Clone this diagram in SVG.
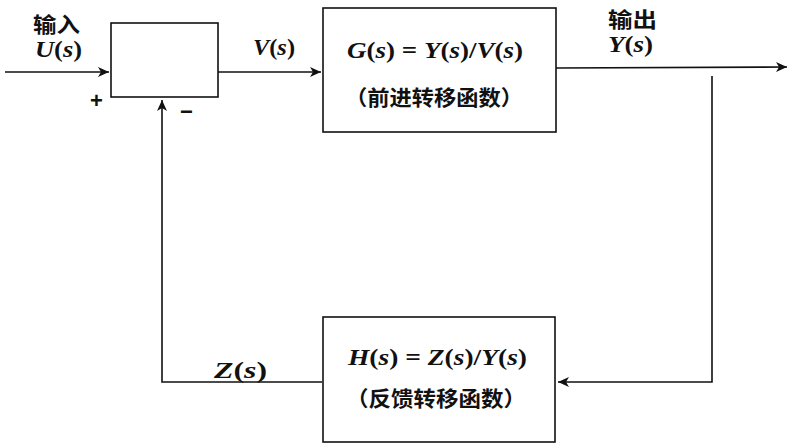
<svg xmlns="http://www.w3.org/2000/svg" width="790" height="443" viewBox="0 0 790 443">
<defs>
<marker id="arr" viewBox="0 0 12 10" refX="11" refY="5" markerWidth="12" markerHeight="10" markerUnits="userSpaceOnUse" orient="auto">
<path d="M0,0 L11,5 L0,10 L3,5 Z" fill="#111"/>
</marker>
</defs>
<style>
.box{fill:#fff;stroke:#111;stroke-width:1.6}
.ln{fill:none;stroke:#111;stroke-width:1.6}
.m{font-family:"Liberation Serif","DejaVu Serif",serif;font-weight:bold;font-size:24px;fill:#111}
.i{font-style:italic}
.cn{font-family:"Noto Sans CJK SC","Noto Sans",sans-serif;font-weight:bold;font-size:21px;fill:#111}
.sg{font-family:"Liberation Sans",sans-serif;font-weight:bold;font-size:22px;fill:#111}
</style>
<g id="connectors">
<line class="ln" x1="5" y1="72" x2="109" y2="72" marker-end="url(#arr)"/>
<line class="ln" x1="218" y1="72" x2="321" y2="72" marker-end="url(#arr)"/>
<line class="ln" x1="556" y1="68" x2="787" y2="67" marker-end="url(#arr)"/>
<polyline class="ln" points="712,76 712,382 558,382" marker-end="url(#arr)"/>
<polyline class="ln" points="322,382 162,382 162,100" marker-end="url(#arr)"/>
</g>
<g id="sum">
<rect class="box" x="111" y="23" width="107" height="74"/>
<text class="sg" x="90" y="108">+</text>
<text class="sg" x="180" y="119">−</text>
</g>
<g id="input-label">
<text class="cn" x="33" y="32" textLength="47" lengthAdjust="spacingAndGlyphs">输入</text>
<text class="m" x="35" y="57" textLength="47" lengthAdjust="spacingAndGlyphs"><tspan class="i">U</tspan>(<tspan class="i">s</tspan>)</text>
</g>
<g id="v-label">
<text class="m" x="253" y="55" textLength="42" lengthAdjust="spacingAndGlyphs"><tspan class="i">V</tspan>(<tspan class="i">s</tspan>)</text>
</g>
<g id="G">
<rect class="box" x="323" y="8" width="233" height="124"/>
<text class="m" x="347" y="58" textLength="176" lengthAdjust="spacingAndGlyphs"><tspan class="i">G</tspan>(<tspan class="i">s</tspan>) = <tspan class="i">Y</tspan>(<tspan class="i">s</tspan>)/<tspan class="i">V</tspan>(<tspan class="i">s</tspan>)</text>
<text class="cn" x="345" y="105" textLength="178" lengthAdjust="spacingAndGlyphs">（前进转移函数）</text>
</g>
<g id="output-label">
<text class="cn" x="608" y="27" textLength="49" lengthAdjust="spacingAndGlyphs">输出</text>
<text class="m" x="608" y="52" textLength="45" lengthAdjust="spacingAndGlyphs"><tspan class="i">Y</tspan>(<tspan class="i">s</tspan>)</text>
</g>
<g id="H">
<rect class="box" x="323" y="317" width="232" height="125"/>
<text class="m" x="348" y="365" textLength="179" lengthAdjust="spacingAndGlyphs"><tspan class="i">H</tspan>(<tspan class="i">s</tspan>) = <tspan class="i">Z</tspan>(<tspan class="i">s</tspan>)/<tspan class="i">Y</tspan>(<tspan class="i">s</tspan>)</text>
<text class="cn" x="346" y="406" textLength="180" lengthAdjust="spacingAndGlyphs">（反馈转移函数）</text>
</g>
<g id="z-label">
<text class="m" x="214" y="378" textLength="53" lengthAdjust="spacingAndGlyphs"><tspan class="i">Z</tspan>(<tspan class="i">s</tspan>)</text>
</g>
</svg>
